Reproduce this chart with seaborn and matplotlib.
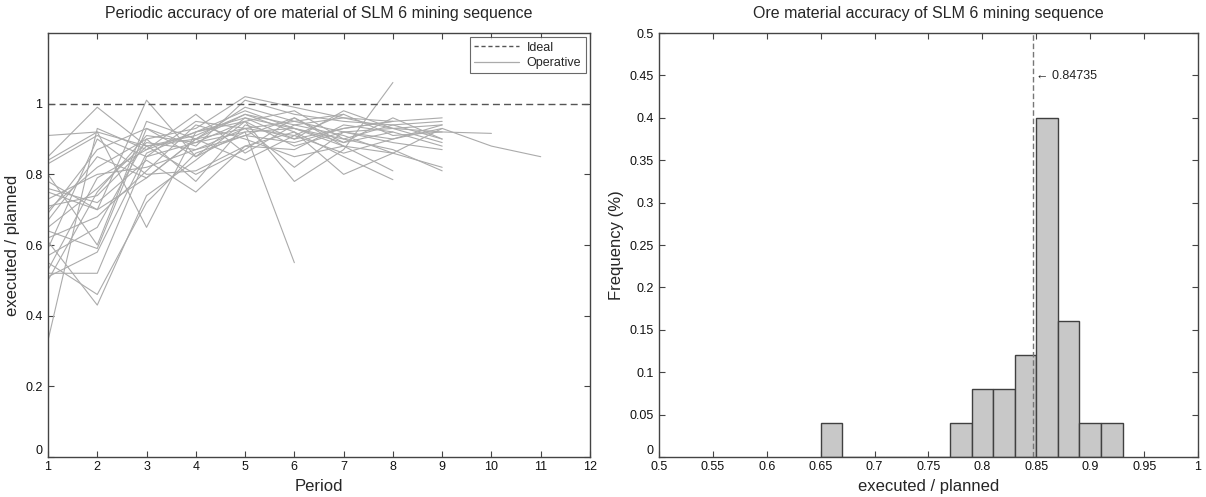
import numpy as np
import pandas as pd
import matplotlib
matplotlib.use("Agg")
import matplotlib.pyplot as plt
import seaborn as sns
from matplotlib.lines import Line2D

# ---------------- data ----------------
seq_values = [
    [0.91, 0.92, 0.88, 0.90, 0.93, 0.95, 0.92, 0.90, 0.93, 0.88, 0.85],
    [0.85, 0.99, 0.88, 0.91, 0.97, 0.94, 0.96, 0.93, 0.92, 0.916],
    [0.33, 0.93, 0.87, 0.92, 0.96, 0.90, 0.93, 0.95, 0.96],
    [0.52, 0.52, 0.85, 0.89, 0.92, 0.55],
    [0.61, 0.43, 0.74, 0.84, 0.95, 0.88, 0.92, 0.93, 0.94],
    [0.55, 0.46, 0.72, 0.86, 0.91, 0.96, 0.89, 0.92, 0.88],
    [0.64, 0.59, 0.93, 0.88, 1.01, 0.97, 0.95, 0.94, 0.90],
    [0.75, 0.70, 1.01, 0.85, 0.96, 0.93, 0.88, 0.86, 0.82],
    [0.84, 0.92, 0.65, 0.92, 0.95, 0.98, 0.90, 0.87, 0.81],
    [0.70, 0.82, 0.90, 0.78, 0.94, 0.90, 0.98, 0.93, 0.89],
    [0.76, 0.72, 0.84, 0.75, 0.88, 0.92, 0.85, 0.785],
    [0.67, 0.85, 0.79, 0.90, 0.97, 0.92, 0.80, 0.86, 0.93],
    [0.73, 0.80, 0.82, 0.87, 0.91, 0.89, 0.93, 0.95],
    [0.57, 0.65, 0.90, 0.93, 1.02, 0.99, 0.96, 0.95],
    [0.50, 0.75, 0.91, 0.89, 0.95, 0.78, 0.87, 1.06],
    [0.62, 0.68, 0.81, 0.94, 0.90, 0.85, 0.88, 0.81],
    [0.53, 0.79, 0.87, 0.97, 0.86, 0.94, 0.91, 0.86],
    [0.80, 0.60, 0.95, 0.90, 0.99, 0.95, 0.97, 0.91, 0.92],
    [0.69, 0.87, 0.93, 0.85, 0.92, 0.93, 0.89, 0.96, 0.90],
    [0.59, 0.90, 0.80, 0.81, 0.88, 0.87, 0.94, 0.92],
    [0.71, 0.74, 0.88, 0.80, 0.87, 0.96, 0.88],
    [0.83, 0.91, 0.85, 0.95, 0.93, 0.91, 0.97],
    [0.51, 0.58, 0.86, 0.92, 0.98, 0.93, 0.90, 0.94, 0.95],
    [0.78, 0.70, 0.79, 0.90, 0.84, 0.91, 0.86, 0.90, 0.94],
    [0.65, 0.76, 0.89, 0.87, 0.93, 0.82, 0.92, 0.89, 0.87],
]
ideal_value = 1.0

bin_edges = [0.65, 0.67, 0.69, 0.71, 0.73, 0.75, 0.77, 0.79, 0.81, 0.83,
             0.85, 0.87, 0.89, 0.91, 0.93]
bin_freq = [0.04, 0.0, 0.0, 0.0, 0.0, 0.0, 0.04, 0.08, 0.08, 0.12,
            0.40, 0.16, 0.04, 0.04]
mean_accuracy = 0.84735

left_title = "Periodic accuracy of ore material of SLM 6 mining sequence"
right_title = "Ore material accuracy of SLM 6 mining sequence"
legend_labels = ["Ideal", "Operative"]

# ---------------- style ----------------
sns.set_theme(style="white")
plt.rcParams["font.family"] = ["Liberation Sans", "DejaVu Sans"]
plt.rcParams["axes.edgecolor"] = "#444444"
plt.rcParams["axes.linewidth"] = 1.0

fig = plt.figure(figsize=(12.06, 4.97), dpi=100)
ax1 = fig.add_axes([0.0398, 0.0805, 0.4494, 0.853])
ax2 = fig.add_axes([0.5464, 0.0805, 0.4470, 0.853])

rows = []
for i, vals in enumerate(seq_values):
    for p, v in enumerate(vals):
        rows.append({"seq": i, "period": p + 1, "value": v})
df = pd.DataFrame(rows)

line_col = "#ababab"
sns.lineplot(data=df, x="period", y="value", units="seq", estimator=None,
             color=line_col, linewidth=0.8, ax=ax1, legend=False)
ax1.axhline(ideal_value, color="#555555", linestyle=(0, (5, 3)), linewidth=1.0)

handles = [Line2D([], [], color="#555555", linestyle=(0, (3, 2)), linewidth=1.0),
           Line2D([], [], color=line_col, linewidth=0.9)]
leg = ax1.legend(handles, legend_labels, loc="upper right",
                 fontsize=9, frameon=True, fancybox=False, borderaxespad=0.35,
                 handlelength=3.6, borderpad=0.35, labelspacing=0.25,
                 handletextpad=0.6)
leg.get_frame().set_edgecolor("#444444")
leg.get_frame().set_linewidth(0.8)

ax1.set_xlim(1, 12)
ax1.set_ylim(0, 1.2)
ax1.set_xticks(range(1, 13))
ax1.set_yticks([0, 0.2, 0.4, 0.6, 0.8, 1.0])
ax1.set_yticklabels(["0", "0.2", "0.4", "0.6", "0.8", "1"])
ax1.set_xlabel("Period", fontsize=12, labelpad=4)
ax1.set_ylabel("executed / planned", fontsize=12, labelpad=4)
ax1.set_title(left_title, fontsize=11.5, pad=11)

# histogram
centers = [(bin_edges[i] + bin_edges[i + 1]) / 2 for i in range(len(bin_freq))]
hdf = pd.DataFrame({"x": centers, "w": bin_freq})
sns.histplot(data=hdf, x="x", weights="w", bins=bin_edges, stat="count",
             color="#c8c8c8", edgecolor="#404040", linewidth=1.0, alpha=1.0,
             ax=ax2)
ax2.axvline(mean_accuracy, color="#777777", linestyle=(0, (4, 2)), linewidth=1.0)
ax2.text(mean_accuracy + 0.002, 0.449, "\u2190 0.84735", fontsize=9,
         va="center", ha="left", color="#222222")
ax2.set_xlim(0.5, 1.0)
ax2.set_ylim(0, 0.5)
xt = [0.5, 0.55, 0.6, 0.65, 0.7, 0.75, 0.8, 0.85, 0.9, 0.95, 1.0]
ax2.set_xticks(xt)
ax2.set_xticklabels(["0.5", "0.55", "0.6", "0.65", "0.7", "0.75", "0.8",
                     "0.85", "0.9", "0.95", "1"])
yt = [0, 0.05, 0.1, 0.15, 0.2, 0.25, 0.3, 0.35, 0.4, 0.45, 0.5]
ax2.set_yticks(yt)
ax2.set_yticklabels(["0", "0.05", "0.1", "0.15", "0.2", "0.25", "0.3",
                     "0.35", "0.4", "0.45", "0.5"])
ax2.set_xlabel("executed / planned", fontsize=12, labelpad=4)
ax2.set_ylabel("Frequency (%)", fontsize=12, labelpad=4)
ax2.set_title(right_title, fontsize=11.5, pad=11)

for ax in (ax1, ax2):
    for s in ax.spines.values():
        s.set_visible(True)
        s.set_color("#444444")
    ax.tick_params(direction="in", length=4, width=0.8, color="#444444",
                   labelsize=9, top=True, right=True, bottom=True, left=True,
                   labelcolor="#111111")
    ax.tick_params(axis="y", pad=4)
    ax.tick_params(axis="x", pad=3)
    # MATLAB-style: the zero label sits slightly above the corner
    ax.get_yticklabels()[0].set_verticalalignment("bottom")

fig.savefig("out.png", dpi=100)
